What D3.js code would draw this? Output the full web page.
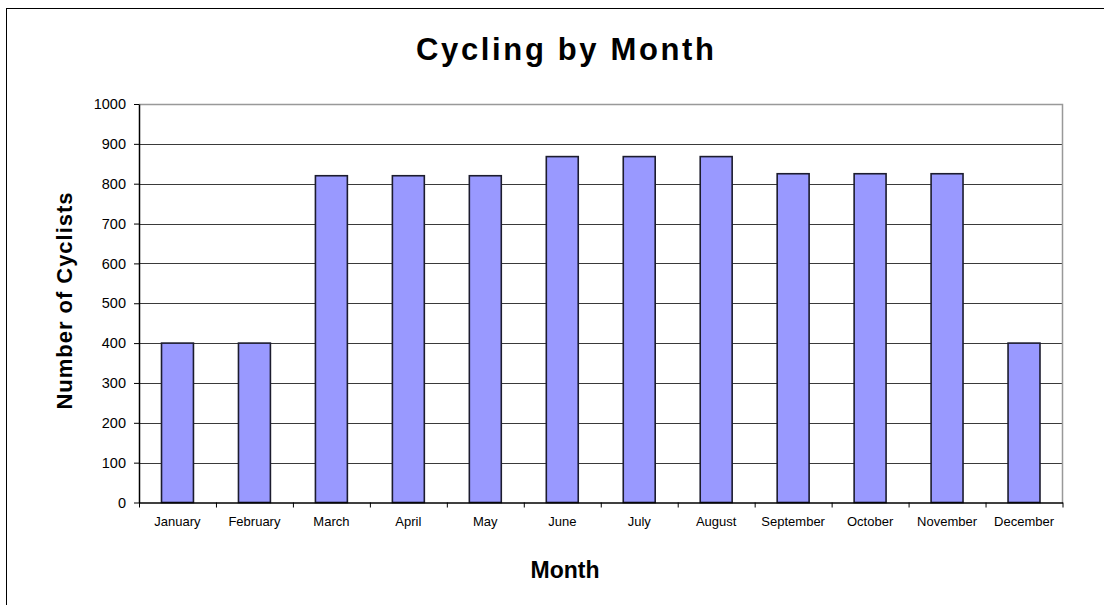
<!DOCTYPE html>
<html>
<head>
<meta charset="utf-8">
<script src="https://cdn.jsdelivr.net/npm/d3@7/dist/d3.min.js"></script>
<style>
  body { margin: 0; background: #fff; }
  svg text { font-family: Arial, "Liberation Sans", sans-serif; fill: #000; }
</style>
</head>
<body>
<div id="chart"></div>
<script>
var months = ['January', 'February', 'March', 'April', 'May', 'June', 'July',
  'August', 'September', 'October', 'November', 'December'];
var cyclists = [400, 400, 820, 820, 820, 868, 868, 868, 825, 825, 825, 400];
var yTicks = [0, 100, 200, 300, 400, 500, 600, 700, 800, 900, 1000];

var width = 1104;
var height = 605;
// plot area edges
var plotLeft = 139, plotRight = 1062.5, plotTop = 104, plotBottom = 502.5;

var svg = d3.select('#chart').append('svg')
  .attr('width', width)
  .attr('height', height);

// outer chart border (runs off the right and bottom edges)
svg.append('rect')
  .attr('x', 6.5)
  .attr('y', 8.5)
  .attr('width', width + 20)
  .attr('height', height + 20)
  .attr('fill', 'none')
  .attr('stroke', '#000')
  .attr('stroke-width', 1);

var xScale = d3.scaleBand()
  .domain(months)
  .range([plotLeft, plotRight])
  .paddingInner(0.585)
  .paddingOuter(0.2925);

var xEdges = d3.scaleLinear()
  .domain([0, months.length])
  .range([plotLeft, plotRight]);

var yScale = d3.scaleLinear()
  .domain([0, 1000])
  .range([plotBottom, plotTop]);

// gridlines
svg.append('g')
  .selectAll('line')
  .data(yTicks.filter(function(d) { return d > 0 && d < 1000; }))
  .enter()
  .append('line')
  .attr('x1', plotLeft)
  .attr('x2', plotRight)
  .attr('y1', function(d) { return Math.round(yScale(d)) + 0.5; })
  .attr('y2', function(d) { return Math.round(yScale(d)) + 0.5; })
  .attr('stroke', '#3a3a3a')
  .attr('stroke-width', 1);

// plot area top and right border
svg.append('path')
  .attr('d', 'M' + plotLeft + ',' + (plotTop + 0.5) + 'H' + plotRight + 'V' + plotBottom)
  .attr('fill', 'none')
  .attr('stroke', '#999')
  .attr('stroke-width', 1.5);

// bars
svg.append('g')
  .selectAll('rect')
  .data(cyclists)
  .enter()
  .append('rect')
  .attr('x', function(d, i) { return xScale(months[i]); })
  .attr('y', function(d) { return yScale(d); })
  .attr('width', xScale.bandwidth())
  .attr('height', function(d) { return plotBottom - yScale(d); })
  .attr('fill', '#9999ff')
  .attr('stroke', '#1c1c2e')
  .attr('stroke-width', 1.6);

// y axis
var yAxis = d3.axisLeft(yScale)
  .tickValues(yTicks)
  .tickSize(5)
  .tickPadding(8)
  .tickSizeOuter(0)
  .tickFormat(d3.format('d'));

var yG = svg.append('g')
  .attr('transform', 'translate(' + plotLeft + ',0)')
  .call(yAxis);
yG.select('.domain').attr('stroke', '#000').attr('stroke-width', 1.5);
yG.selectAll('.tick line').attr('stroke', '#000');
yG.selectAll('.tick text')
  .style('font-size', '14.5px')
  .attr('fill', '#000');

// x axis: ticks on category edges, labels at centres
var xTickG = svg.append('g')
  .attr('transform', 'translate(0,' + plotBottom + ')')
  .call(d3.axisBottom(xEdges)
    .tickValues(d3.range(months.length + 1))
    .tickSize(5)
    .tickSizeOuter(0)
    .tickFormat(''));
xTickG.select('.domain').attr('stroke', '#000').attr('stroke-width', 1.5);
xTickG.selectAll('.tick line').attr('stroke', '#000');

var xLabelG = svg.append('g')
  .attr('transform', 'translate(0,' + plotBottom + ')')
  .call(d3.axisBottom(xScale).tickSize(0).tickPadding(14));
xLabelG.select('.domain').remove();
xLabelG.selectAll('.tick text')
  .style('font-size', '13px')
  .attr('fill', '#000');

// titles
svg.append('text')
  .attr('text-anchor', 'middle')
  .attr('x', 565)
  .attr('y', 60)
  .style('font-size', '31px')
  .style('font-weight', 'bold')
  .attr('textLength', 298)
  .attr('lengthAdjust', 'spacing')
  .text('Cycling by Month');

svg.append('text')
  .attr('text-anchor', 'middle')
  .attr('x', 565)
  .attr('y', 578)
  .style('font-size', '23px')
  .style('font-weight', 'bold')
  .text('Month');

svg.append('text')
  .attr('text-anchor', 'middle')
  .attr('transform', 'translate(72,301) rotate(-90)')
  .style('font-size', '22px')
  .style('font-weight', 'bold')
  .attr('textLength', 217)
  .attr('lengthAdjust', 'spacing')
  .text('Number of Cyclists');
</script>
</body>
</html>
